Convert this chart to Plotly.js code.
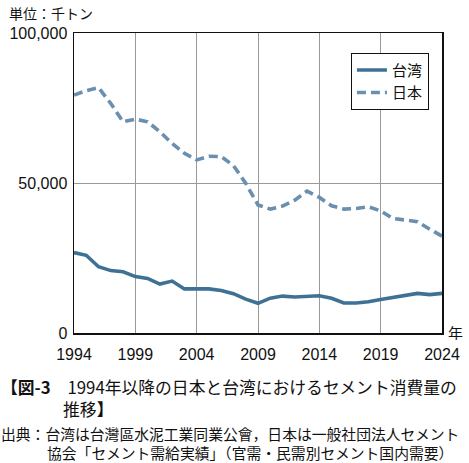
<!DOCTYPE html>
<html><head><meta charset="utf-8">
<script src="https://cdn.plot.ly/plotly-3.0.1.min.js"></script>
<style>html,body{margin:0;padding:0;background:#fff;}#chart{width:469px;height:463px;}</style>
</head><body><div id="chart"></div>
<script>
const years = [1994,1995,1996,1997,1998,1999,2000,2001,2002,2003,2004,2005,2006,2007,2008,2009,2010,2011,2012,2013,2014,2015,2016,2017,2018,2019,2020,2021,2022,2023,2024];
const taiwan = [26800,25900,22100,20800,20400,18800,18200,16300,17300,14700,14700,14700,14200,13100,11300,9900,11600,12300,12000,12100,12400,11600,10000,10000,10400,11200,11900,12400,13200,12800,13200];
const japan = [79300,80800,81800,76500,70400,71300,70400,67100,63200,59900,57700,58900,58800,55800,49900,42700,41300,42300,44300,47300,45200,42400,41300,41500,42100,40700,38200,37700,37100,34600,32300];
const seriesNames = ["台湾","日本"];
const yTicks = [0,50000,100000];
const yTickText = ["0","50,000","100,000"];
const xTicks = [1994,1999,2004,2009,2014,2019,2024];

const jpFont = '"Noto Sans CJK JP", "Noto Sans", sans-serif';
const numFont = '"Liberation Sans", Arial, sans-serif';

const traces = [
  {x: years, y: taiwan, name: seriesNames[0], type: 'scatter', mode: 'lines',
   line: {color: '#3e7194', width: 3.6}},
  {x: years, y: japan, name: seriesNames[1], type: 'scatter', mode: 'lines',
   line: {color: '#6b8fae', width: 3.6, dash: '9px,5px'}}
];

const layout = {
  width: 469, height: 463,
  margin: {l: 74, r: 27, t: 33, b: 130},
  paper_bgcolor: '#fff', plot_bgcolor: '#fff',
  showlegend: true,
  legend: {x: 0.752, y: 0.935, xanchor: 'left', yanchor: 'top',
    bordercolor: '#111', borderwidth: 1.2, bgcolor: '#fff',
    font: {family: jpFont, size: 15, color: '#111'}, tracegroupgap: 0, itemwidth: 30},
  xaxis: {range: [1994, 2024], tickvals: xTicks, ticktext: xTicks.map(String),
    showgrid: true, gridcolor: '#999', gridwidth: 1, zeroline: false,
    showline: true, linecolor: '#111', linewidth: 1.5, mirror: true, ticks: '',
    ticklabelstandoff: 6,
    tickfont: {family: numFont, size: 16, color: '#111'}, fixedrange: true},
  yaxis: {range: [0, 100000], tickvals: yTicks, ticktext: yTickText,
    showgrid: true, gridcolor: '#999', gridwidth: 1, zeroline: false,
    showline: true, linecolor: '#111', linewidth: 1.5, mirror: true, ticks: '',
    ticklabelstandoff: 2,
    tickfont: {family: numFont, size: 16, color: '#111'}, fixedrange: true},
  annotations: [
    {text: '単位：千トン', xref: 'paper', yref: 'paper', x: -0.183, y: 1.067, xanchor: 'left', yanchor: 'middle', showarrow: false,
     height: 18, font: {family: jpFont, size: 14, color: '#111'}},
    {text: '年', xref: 'paper', yref: 'paper', x: 1.012, y: 0.003, xanchor: 'left', yanchor: 'middle', showarrow: false,
     height: 15, font: {family: jpFont, size: 15, color: '#111'}},
    {text: '<b>【図-3</b>　1994年以降の日本と台湾におけるセメント消費量の<br>\u3000\u3000\u3000\u2002\u2009推移<b>】</b>',
     xref: 'paper', yref: 'paper', x: -0.203, y: -0.215, xanchor: 'left', yanchor: 'middle', align: 'left', showarrow: false,
     font: {family: jpFont, size: 16.8, color: '#111'}},
    {text: '出典：台湾は台灣區水泥工業同業公會，日本は一般社団法人セメント', xref: 'paper', yref: 'paper', x: -0.203, y: -0.333, xanchor: 'left', yanchor: 'middle', showarrow: false,
     height: 18, font: {family: jpFont, size: 14.8, color: '#111'}},
    {text: '協会「セメント需給実績」（官需・民需別セメント国内需要）', xref: 'paper', yref: 'paper', x: -0.08, y: -0.397, xanchor: 'left', yanchor: 'middle', showarrow: false,
     height: 18, font: {family: jpFont, size: 14.8, color: '#111'}}
  ]
};

Plotly.newPlot('chart', traces, layout, {displayModeBar: false, staticPlot: true});
</script>
</body></html>
